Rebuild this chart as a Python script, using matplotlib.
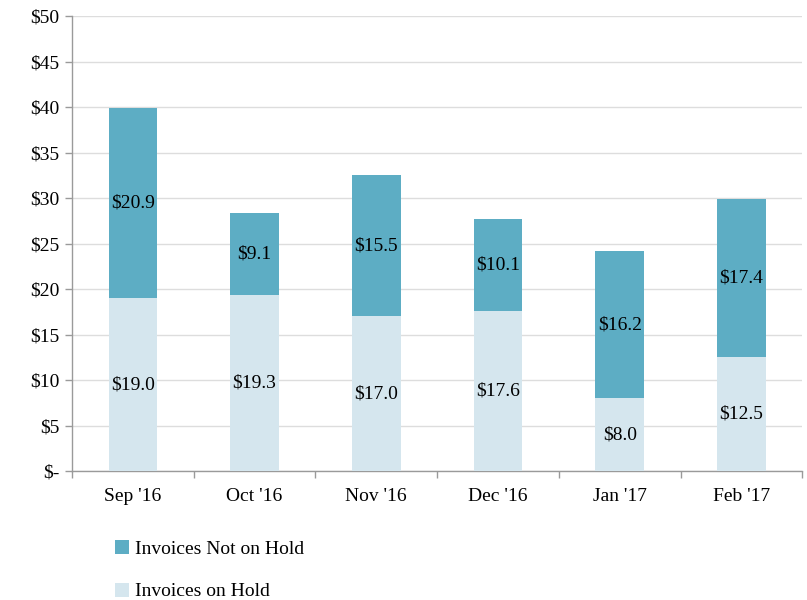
import matplotlib
matplotlib.use("Agg")
import matplotlib.pyplot as plt
import numpy as np

categories = ["Sep '16", "Oct '16", "Nov '16", "Dec '16", "Jan '17", "Feb '17"]
on_hold = [19.0, 19.3, 17.0, 17.6, 8.0, 12.5]
not_on_hold = [20.9, 9.1, 15.5, 10.1, 16.2, 17.4]
yticks = [0, 5, 10, 15, 20, 25, 30, 35, 40, 45, 50]
ytick_labels = ["$-", "$5", "$10", "$15", "$20", "$25", "$30", "$35", "$40", "$45", "$50"]

plt.rcParams['font.family'] = ['Liberation Serif', 'DejaVu Serif']

c_dark = "#5DADC4"
c_light = "#D5E6EE"
fs = 14

fig = plt.figure(figsize=(8.07, 6.0), dpi=100)
ax = fig.add_axes([0.0892, 0.215, 0.905, 0.758])

x = np.arange(len(categories))
w = 0.4
b1 = ax.bar(x, on_hold, w, color=c_light, label="Invoices on Hold", zorder=3)
b2 = ax.bar(x, not_on_hold, w, bottom=on_hold, color=c_dark, label="Invoices Not on Hold", zorder=3)

for i in range(len(categories)):
    ax.text(x[i], on_hold[i] / 2, f"${on_hold[i]:.1f}", ha="center", va="center", fontsize=fs, color="black", zorder=4)
    ax.text(x[i], on_hold[i] + not_on_hold[i] / 2, f"${not_on_hold[i]:.1f}", ha="center", va="center", fontsize=fs, color="black", zorder=4)

ax.set_xlim(-0.5, len(categories) - 0.5)
ax.set_ylim(0, 50)
ax.set_yticks(yticks)
ax.set_yticklabels(ytick_labels, fontsize=fs)
ax.set_xticks(x)
ax.set_xticklabels(categories, fontsize=fs)
ax.set_xticks(np.arange(-0.5, len(categories)), minor=True)
ax.tick_params(axis="x", which="major", length=0, pad=12)
ax.tick_params(axis="x", which="minor", length=5, color="#9a9a9a", width=1)
ax.tick_params(axis="y", length=5, color="#9a9a9a", width=1, pad=4)

ax.yaxis.grid(True, color="#dddddd", linewidth=1, zorder=0)
ax.set_axisbelow(True)
for s in ["top", "right"]:
    ax.spines[s].set_visible(False)
for s in ["left", "bottom"]:
    ax.spines[s].set_color("#9a9a9a")
    ax.spines[s].set_linewidth(1)

handles = [b2, b1]
labels = ["Invoices Not on Hold", "Invoices on Hold"]
fig.legend(handles, labels, loc="upper left", bbox_to_anchor=(0.143, 0.1), frameon=False,
           fontsize=fs, handlelength=0.7, handleheight=0.7, handletextpad=0.3, labelspacing=1.3,
           borderaxespad=0, borderpad=0)

fig.savefig("out.png", dpi=100)
